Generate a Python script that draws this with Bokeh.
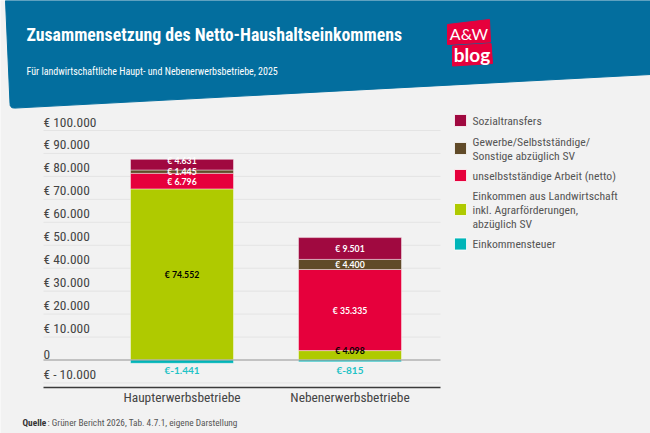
from bokeh.plotting import figure
from bokeh.embed import file_html
from bokeh.resources import INLINE
from bokeh.core.properties import value
from bokeh.models import Range1d, LinearAxis, FixedTicker, ColumnDataSource

# ---------- data ----------
categories = ["Haupterwerbsbetriebe", "Nebenerwerbsbetriebe"]
einkommensteuer = [-1441, -815]
landwirtschaft = [74552, 4098]
unselbststaendig = [6796, 35335]
gewerbe = [1445, 4400]
sozialtransfers = [4631, 9501]
y_ticks = [-10000, 0, 10000, 20000, 30000, 40000, 50000, 60000, 70000, 80000, 90000, 100000]
y_tick_labels = ["€ - 10.000", "0", "€ 10.000", "€ 20.000", "€ 30.000", "€ 40.000", "€ 50.000",
                 "€ 60.000", "€ 70.000", "€ 80.000", "€ 90.000", "€ 100.000"]
legend_labels = ["Sozialtransfers", "Gewerbe/Selbstständige/\nSonstige abzüglich SV",
                 "unselbstständige Arbeit (netto)",
                 "Einkommen aus Landwirtschaft\ninkl. Agrarförderungen,\nabzüglich SV", "Einkommensteuer"]
title = "Zusammensetzung des Netto-Haushaltseinkommens"
subtitle = "Für landwirtschaftliche Haupt- und Nebenerwerbsbetriebe, 2025"

# ---------- style ----------
BG = "#f2f2f2"; BLUE = "#036e9e"
C_TAX = "#00b5b8"; C_AGR = "#afca00"; C_WORK = "#e6003c"; C_BIZ = "#604a28"; C_SOC = "#a00940"
LATO = value("Lato"); COND = value("Roboto Condensed")
W, H = 650, 433
ZERO_PX = 359.5; PX_PER_10K = 22.95; CAT0_PX = 181.5; CAT_STEP = 168.0
val = lambda py: (ZERO_PX - py) / PX_PER_10K * 10000
cat = lambda px: (px - CAT0_PX) / CAT_STEP

p = figure(width=W, height=H, output_backend="svg", toolbar_location=None,
           x_range=Range1d(cat(0), cat(W)), y_range=Range1d(val(H), val(0)),
           min_border=0, background_fill_color=BG, border_fill_color=BG, outline_line_color=None)
p.xaxis.visible = False; p.yaxis.visible = False
p.xgrid.visible = False; p.ygrid.visible = False
p.extra_x_ranges["px"] = Range1d(0, W)
p.extra_y_ranges["px"] = Range1d(H, 0)
PX = dict(x_range_name="px", y_range_name="px")

# header
hx = [5, 650, 650, 14, 11.5, 9.8, 9.5]
hy = [0, 0, 74, 107.6, 107.2, 105.5, 103]
p.patch(hx, hy, color=BLUE, **PX)
p.text([26], [34], text=[title], text_font=COND, text_font_style="bold", text_font_size="17.8px",
       text_color="white", text_baseline="middle", **PX)
p.text([26], [71], text=[subtitle], text_font=COND, text_font_size="10px",
       text_color="white", text_baseline="middle", **PX)
p.patch([447, 489, 490, 447], [24, 19, 41.5, 44], color=C_WORK, **PX)
p.patch([452, 490.5, 492, 452], [45.5, 43, 63, 65.5], color=C_WORK, **PX)
p.text([468.5], [33], text=["A&W"], text_font=LATO, text_font_size="16px", text_color="white",
       text_align="center", text_baseline="middle", **PX)
p.text([471.5], [54], text=["blog"], text_font=LATO, text_font_style="bold", text_font_size="19px",
       text_color="white", text_align="center", text_baseline="middle", **PX)

# grid and y tick labels
p.segment(x0=[43] * len(y_ticks), x1=[440] * len(y_ticks), y0=y_ticks, y1=y_ticks,
          line_color="#e4e4e4", line_width=1, x_range_name="px")
p.text([43] * len(y_ticks), y_ticks, text=y_tick_labels, y_offset=-1, text_font=COND,
       text_font_size="13.4px", text_color="#444444", text_baseline="bottom", x_range_name="px")

# bars
xs = list(range(len(categories)))
BAR_W = 103 / CAT_STEP
series = [("landwirtschaft", landwirtschaft, C_AGR), ("unselbststaendig", unselbststaendig, C_WORK),
          ("gewerbe", gewerbe, C_BIZ), ("sozialtransfers", sozialtransfers, C_SOC)]
src = ColumnDataSource({"x": xs, "tax": einkommensteuer, **{n: v for n, v, _ in series}})
p.vbar_stack([n for n, _, _ in series], x="x", width=BAR_W, source=src,
             color=[c for _, _, c in series], line_color="white", line_alpha=0.55, line_width=0.8)
p.vbar(x="x", top=0, bottom="tax", width=BAR_W, source=src, color=C_TAX, line_color="white",
       line_alpha=0.55, line_width=0.8)
p.segment(x0=[43], x1=[440], y0=[0], y1=[0], line_color="#9a9a9a", line_width=1.2, x_range_name="px")

# data labels
fmt = lambda v: "€ " + f"{v:,}".replace(",", ".")
nudge = {("sozialtransfers", 0): 4.2, ("landwirtschaft", 1): 4.8}
base = [0] * len(xs)
for n, vals, c in series:
    mids = [b + v / 2 for b, v in zip(base, vals)]
    base = [b + v for b, v in zip(base, vals)]
    p.text(xs, mids, text=[fmt(v) for v in vals], y_offset=[-nudge.get((n, i), 0) for i in xs],
           text_font=LATO, text_font_style="bold", text_font_size="8.7px",
           text_color="black" if n == "landwirtschaft" else "white",
           text_align="center", text_baseline="middle")
p.text(xs, [val(369)] * 2, text=["€" + f"{v:,}".replace(",", ".") for v in einkommensteuer],
       text_font=LATO, text_font_style="bold", text_font_size="10px", text_color="#1fc3c6",
       text_align="center", text_baseline="middle")

# x axis
xax = LinearAxis(ticker=FixedTicker(ticks=xs), major_label_overrides=dict(zip(xs, categories)),
                 fixed_location=val(386.5), bounds=(cat(43), cat(440)), axis_line_color="#3a3a3a",
                 axis_line_width=1.6, major_tick_line_color=None, minor_tick_line_color=None,
                 major_label_standoff=-3, major_label_text_font="Roboto Condensed",
                 major_label_text_font_size="13.4px", major_label_text_color="#444444")
p.add_layout(xax, "below")

# legend
legend_colors = [C_SOC, C_BIZ, C_WORK, C_AGR, C_TAX]
legend_y = [120, 148, 175, 209, 243.5]
p.rect([460] * 5, legend_y, width=12, height=12, color=legend_colors, line_color="white",
       line_width=0.8, **PX)
p.text([472] * 5, legend_y, text=legend_labels, text_font=COND, text_font_size="11.7px",
       text_color="#555555", text_baseline="middle", text_line_height=1.0, **PX)

# footer
p.text([22], [422], text=["Quelle"], text_font=COND, text_font_style="bold", text_font_size="9.3px",
       text_color="#333333", text_baseline="middle", **PX)
p.text([47], [422], text=[": Grüner Bericht 2026, Tab. 4.7.1, eigene Darstellung"], text_font=COND,
       text_font_size="9.3px", text_color="#555555", text_baseline="middle", **PX)

open("out.html", "w").write(file_html(p, INLINE))
